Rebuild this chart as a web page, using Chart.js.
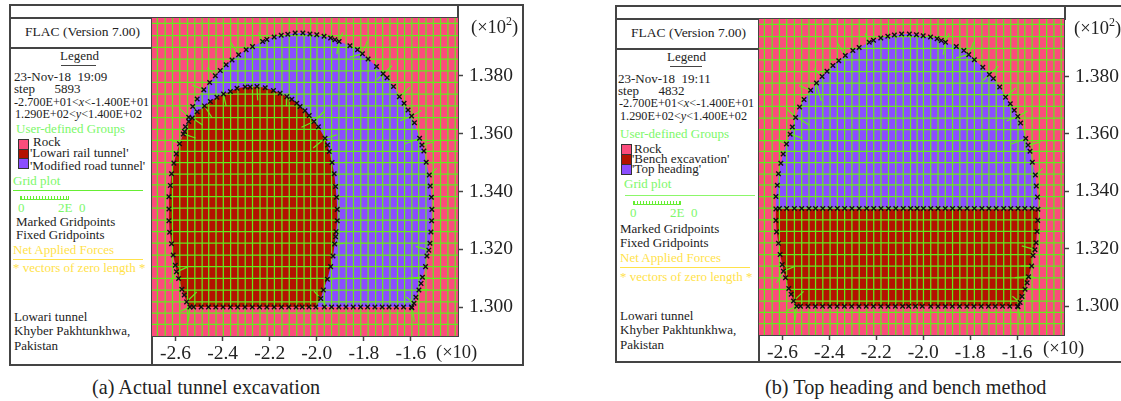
<!DOCTYPE html>
<html>
<head>
<meta charset="utf-8">
<script src="https://cdn.jsdelivr.net/npm/chart.js@4"></script>
<style>
html, body { margin: 0; padding: 0; background: #fff; overflow: hidden; }
body { position: relative; width: 1121px; height: 401px; font-family: "Liberation Serif", serif; }
canvas { position: absolute; }
.t { position: absolute; white-space: pre; font-size: 13px; line-height: 14px; color: #222; }
.n { font-size: 12.2px; }
.g { color: #7cf76a; }
.y { color: #ffe24a; }
.big { font-size: 18.5px; line-height: 22px; color: #222; }
.cap { font-size: 20.2px; line-height: 22px; color: #222; }
.big sup { font-size: 12px; line-height: 0; vertical-align: 8px; }
.r { position: absolute; background: #444; }
.sw { position: absolute; width: 9px; height: 9px; border: 1px solid #333; }
.bar { position: absolute; height: 3px; border: 1px solid #66ee33; border-top: none;
       background: repeating-linear-gradient(90deg, #66ee33 0 1px, transparent 1px 3px); }
</style>
</head>
<body>

<!-- panel (a) frame -->
<div class="r" style="left:9px;top:4px;width:515px;height:2px"></div>
<div class="r" style="left:9px;top:364px;width:515px;height:2px"></div>
<div class="r" style="left:9px;top:4px;width:2px;height:362px"></div>
<div class="r" style="left:522px;top:4px;width:2px;height:362px"></div>
<div class="r" style="left:9px;top:17px;width:450px;height:2px"></div>
<div class="r" style="left:9px;top:47px;width:143px;height:2px"></div>
<div class="r" style="left:151px;top:17px;width:2px;height:349px"></div>
<div class="r" style="left:457px;top:4px;width:2px;height:15px"></div>

<div class="t" style="left:25px;top:25px;font-size:13.5px">FLAC (Version 7.00)</div>
<div class="t" style="left:60px;top:49px">Legend</div>
<div class="r" style="left:61px;top:65px;width:35px;height:1px"></div>
<div class="t" style="left:14px;top:70px">23-Nov-18  19:09</div>
<div class="t" style="left:14px;top:82px">step      5893</div>
<div class="t n" style="left:14px;top:95px">-2.700E+01&lt;<i>x</i>&lt;-1.400E+01</div>
<div class="t n" style="left:15px;top:107px">1.290E+02&lt;<i>y</i>&lt;1.400E+02</div>
<div class="t g" style="left:16px;top:122px">User-defined Groups</div>
<div class="sw" style="left:18px;top:139px;background:#fb4c7c"></div>
<div class="sw" style="left:18px;top:149px;background:#b31200"></div>
<div class="sw" style="left:18px;top:158px;background:#8b4dff"></div>
<div class="t" style="left:33px;top:135px">Rock</div>
<div class="t" style="left:30px;top:146px">'Lowari rail tunnel'</div>
<div class="t" style="left:30px;top:159px">'Modified road tunnel'</div>
<div class="t g" style="left:13px;top:174px">Grid plot</div>
<div class="r" style="left:13px;top:190px;width:130px;height:1px;background:#66ee33"></div>
<div class="bar" style="left:20px;top:196px;width:47px"></div>
<div class="t g" style="left:18px;top:201px">0</div>
<div class="t g" style="left:58px;top:201px">2E  0</div>
<div class="t" style="left:16px;top:215px">Marked Gridpoints</div>
<div class="t" style="left:16px;top:228px">Fixed Gridpoints</div>
<div class="t y" style="left:13px;top:243px">Net Applied Forces</div>
<div class="r" style="left:13px;top:259px;width:130px;height:1px;background:#ffe24a"></div>
<div class="t y" style="left:13px;top:261px">* vectors of zero length *</div>
<div class="t" style="left:14px;top:310px">Lowari tunnel</div>
<div class="t" style="left:14px;top:324px">Khyber Pakhtunkhwa,</div>
<div class="t" style="left:14px;top:339px">Pakistan</div>
<div class="t cap" style="left:92px;top:376px">(a) Actual tunnel excavation</div>

<!-- panel (b) frame -->
<div class="r" style="left:615px;top:5px;width:506px;height:2px"></div>
<div class="r" style="left:615px;top:361px;width:506px;height:2px"></div>
<div class="r" style="left:615px;top:5px;width:2px;height:358px"></div>
<div class="r" style="left:615px;top:18px;width:450px;height:2px"></div>
<div class="r" style="left:615px;top:48px;width:143px;height:2px"></div>
<div class="r" style="left:758px;top:18px;width:2px;height:345px"></div>
<div class="r" style="left:1064px;top:5px;width:2px;height:15px"></div>

<div class="t" style="left:631px;top:26px;font-size:13.5px">FLAC (Version 7.00)</div>
<div class="t" style="left:667px;top:50px">Legend</div>
<div class="r" style="left:670px;top:66px;width:32px;height:1px"></div>
<div class="t" style="left:618px;top:72px">23-Nov-18  19:11</div>
<div class="t" style="left:618px;top:84px">step      4832</div>
<div class="t n" style="left:619px;top:96px">-2.700E+01&lt;<i>x</i>&lt;-1.400E+01</div>
<div class="t n" style="left:620px;top:109px">1.290E+02&lt;<i>y</i>&lt;1.400E+02</div>
<div class="t g" style="left:620px;top:127px">User-defined Groups</div>
<div class="sw" style="left:621px;top:144px;background:#fb4c7c"></div>
<div class="sw" style="left:621px;top:154px;background:#b31200"></div>
<div class="sw" style="left:621px;top:164px;background:#8b4dff"></div>
<div class="t" style="left:634px;top:142px">Rock</div>
<div class="t" style="left:632px;top:152px">'Bench excavation'</div>
<div class="t" style="left:632px;top:162px">'Top heading'</div>
<div class="t g" style="left:624px;top:177px">Grid plot</div>
<div class="r" style="left:625px;top:195px;width:130px;height:1px;background:#8cf76a"></div>
<div class="bar" style="left:633px;top:201px;width:46px"></div>
<div class="t g" style="left:630px;top:206px">0</div>
<div class="t g" style="left:670px;top:206px">2E  0</div>
<div class="t" style="left:620px;top:222px">Marked Gridpoints</div>
<div class="t" style="left:620px;top:236px">Fixed Gridpoints</div>
<div class="t y" style="left:620px;top:251px">Net Applied Forces</div>
<div class="r" style="left:620px;top:267px;width:130px;height:1px;background:#ffe24a"></div>
<div class="t y" style="left:620px;top:270px">* vectors of zero length *</div>
<div class="t" style="left:620px;top:309px">Lowari tunnel</div>
<div class="t" style="left:620px;top:323px">Khyber Pakhtunkhwa,</div>
<div class="t" style="left:620px;top:338px">Pakistan</div>
<div class="t cap" style="left:765px;top:376px">(b) Top heading and bench method</div>

<canvas id="chartA" width="371" height="346" style="left:152px;top:18px"></canvas>
<canvas id="chartB" width="362" height="343" style="left:759px;top:19px"></canvas>

<div class="t big" style="left:471px;top:16px">(×10<sup>2</sup>)</div>
<div class="t big" style="left:436px;top:341px">(×10)</div>
<div class="t big" style="left:1074px;top:17px">(×10<sup>2</sup>)</div>
<div class="t big" style="left:1043px;top:337px">(×10)</div>

<script>
// Axis limits and tick labels (FLAC plot window, x in ×10 and y in ×10²)
const xMin = -2.7, xMax = -1.4, yMin = 1.29, yMax = 1.4;
const xTicks = [-2.6, -2.4, -2.2, -2.0, -1.8, -1.6];
const yTicks = [1.300, 1.320, 1.340, 1.360, 1.380];

// Mesh lines
const gridXs = [-2.677, -2.644, -2.613, -2.582, -2.549, -2.518, -2.487, -2.459, -2.428, -2.397, -2.366,
    -2.335, -2.304, -2.273, -2.241, -2.211, -2.180, -2.148, -2.117, -2.085, -2.054, -2.026, -1.999,
    -1.968, -1.937, -1.906, -1.875, -1.844, -1.813, -1.782, -1.750, -1.720, -1.689, -1.657, -1.627,
    -1.596, -1.567, -1.536, -1.505, -1.474, -1.443, -1.412];
const gridYs = [1.3981, 1.3939, 1.3898, 1.3858, 1.3817, 1.3777, 1.3737, 1.3696, 1.3655, 1.3615, 1.3577,
    1.3539, 1.3500, 1.3460, 1.3423, 1.3382, 1.3342, 1.3301, 1.3261, 1.3221, 1.3180, 1.3140, 1.3099,
    1.3059, 1.3018, 1.2979, 1.2940];

// Road tunnel outline: right wall, up over the crown, down to where it meets the rail tunnel
const archPoints = [[-1.596, 1.2998], [-1.587, 1.3013], [-1.579, 1.3034], [-1.566, 1.3059], [-1.557, 1.3082],
    [-1.551, 1.3103], [-1.538, 1.3140], [-1.532, 1.3177], [-1.524, 1.3197], [-1.519, 1.3221], [-1.515, 1.3260],
    [-1.512, 1.3299], [-1.511, 1.3338], [-1.513, 1.3380], [-1.518, 1.3419], [-1.522, 1.3457], [-1.535, 1.3501],
    [-1.545, 1.3540], [-1.553, 1.3561], [-1.563, 1.3584], [-1.585, 1.3638], [-1.597, 1.3661], [-1.612, 1.3682],
    [-1.629, 1.3705], [-1.649, 1.3728], [-1.674, 1.3763], [-1.701, 1.3793], [-1.718, 1.3807], [-1.746, 1.3832],
    [-1.782, 1.3858], [-1.806, 1.3876], [-1.827, 1.3890], [-1.859, 1.3904], [-1.905, 1.3919], [-1.923, 1.3925],
    [-1.941, 1.3931], [-1.969, 1.3937], [-2.000, 1.3942], [-2.029, 1.3945], [-2.059, 1.3948], [-2.092, 1.3948],
    [-2.123, 1.3944], [-2.151, 1.3940], [-2.181, 1.3934], [-2.212, 1.3926], [-2.230, 1.3919], [-2.273, 1.3901],
    [-2.300, 1.3890], [-2.332, 1.3873], [-2.360, 1.3855], [-2.385, 1.3838], [-2.410, 1.3818], [-2.431, 1.3800],
    [-2.455, 1.3777], [-2.480, 1.3752], [-2.508, 1.3720], [-2.527, 1.3694], [-2.544, 1.3657], [-2.558, 1.3624]];

// Left wall shared by the rail tunnel and the full section
const leftWallPoints = [[-2.567, 1.3599], [-2.583, 1.3565], [-2.597, 1.3530], [-2.607, 1.3498], [-2.617, 1.3461],
    [-2.622, 1.3421], [-2.628, 1.3382], [-2.628, 1.3339], [-2.628, 1.3299], [-2.625, 1.3259], [-2.617, 1.3219],
    [-2.610, 1.3180], [-2.601, 1.3145], [-2.596, 1.3122], [-2.587, 1.3099], [-2.573, 1.3062], [-2.563, 1.3042],
    [-2.553, 1.3018], [-2.539, 1.3000]];

// Invert at y = 1.300
const invertY = 1.300;
const railInvertXs = [-2.523, -2.491, -2.460, -2.429, -2.398, -2.367, -2.336, -2.305, -2.274, -2.243, -2.212,
    -2.181, -2.150, -2.119, -2.088, -2.062, -2.033, -2.004];
const roadInvertXs = [-1.968, -1.937, -1.906, -1.876, -1.845, -1.814, -1.784, -1.753, -1.722, -1.693, -1.662,
    -1.631, -1.598];

// Right wall and crown of the rail tunnel in panel (a)
const railRightPoints = [[-1.983, 1.3030], [-1.972, 1.3059], [-1.955, 1.3096], [-1.941, 1.3140], [-1.931, 1.3177],
    [-1.924, 1.3218], [-1.920, 1.3243], [-1.918, 1.3261], [-1.913, 1.3299], [-1.913, 1.3338], [-1.916, 1.3380],
    [-1.920, 1.3417], [-1.926, 1.3461], [-1.935, 1.3500], [-1.947, 1.3538], [-1.954, 1.3561], [-1.965, 1.3584],
    [-1.993, 1.3624], [-2.012, 1.3642], [-2.032, 1.3663], [-2.050, 1.3679], [-2.071, 1.3694], [-2.085, 1.3705],
    [-2.106, 1.3719], [-2.127, 1.3728], [-2.156, 1.3740], [-2.184, 1.3749], [-2.219, 1.3759], [-2.254, 1.3763],
    [-2.283, 1.3761], [-2.304, 1.3761], [-2.339, 1.3757], [-2.367, 1.3746], [-2.396, 1.3737], [-2.424, 1.3726],
    [-2.452, 1.3711], [-2.477, 1.3696], [-2.508, 1.3676], [-2.529, 1.3654], [-2.544, 1.3642], [-2.562, 1.3607]];

// Level of the bench in panel (b)
const benchY = 1.334;

// Warped mesh pieces next to the boundaries: x1, y1, x2, y2
const archWarps = [[-1.905, 1.3919, -1.890, 1.3950], [-1.806, 1.3876, -1.785, 1.3920], [-1.718, 1.3807, -1.680, 1.3835],
    [-1.649, 1.3728, -1.605, 1.3760], [-1.597, 1.3661, -1.555, 1.3680], [-1.553, 1.3561, -1.500, 1.3572],
    [-1.522, 1.3457, -1.490, 1.3480], [-1.566, 1.3059, -1.525, 1.3060], [-1.596, 1.3000, -1.585, 1.2950],
    [-1.551, 1.3103, -1.520, 1.3100], [-2.230, 1.3919, -2.248, 1.3950], [-2.332, 1.3873, -2.365, 1.3915],
    [-2.431, 1.3800, -2.465, 1.3828], [-2.480, 1.3752, -2.530, 1.3768], [-2.544, 1.3657, -2.585, 1.3690],
    [-2.583, 1.3565, -2.625, 1.3580], [-2.596, 1.3122, -2.625, 1.3082], [-2.539, 1.3000, -2.580, 1.2985],
    [-2.539, 1.3000, -2.546, 1.2950], [-1.718, 1.3807, -1.745, 1.3786], [-1.806, 1.3876, -1.860, 1.3865],
    [-1.905, 1.3919, -1.915, 1.3875], [-1.597, 1.3661, -1.645, 1.3645], [-1.563, 1.3584, -1.625, 1.3565],
    [-1.524, 1.3197, -1.580, 1.3210], [-1.551, 1.3103, -1.610, 1.3100], [-1.587, 1.3013, -1.620, 1.3035]];
const railWarps = [[-2.254, 1.3763, -2.251, 1.3715], [-2.396, 1.3737, -2.385, 1.3695], [-2.477, 1.3696, -2.445, 1.3655],
    [-2.529, 1.3654, -2.485, 1.3630], [-2.567, 1.3599, -2.515, 1.3585], [-2.596, 1.3122, -2.550, 1.3138],
    [-2.553, 1.3018, -2.510, 1.3052], [-2.127, 1.3728, -2.129, 1.3695], [-2.012, 1.3642, -2.065, 1.3622],
    [-1.965, 1.3584, -2.015, 1.3550], [-1.983, 1.3030, -2.012, 1.3055], [-1.924, 1.3218, -1.885, 1.3220],
    [-1.955, 1.3096, -1.900, 1.3100], [-1.983, 1.3030, -1.955, 1.3000], [-1.965, 1.3584, -1.915, 1.3596],
    [-2.012, 1.3642, -1.965, 1.3680]];
const benchWarps = [[-2.596, 1.3122, -2.550, 1.3138], [-2.553, 1.3018, -2.510, 1.3052], [-2.529, 1.3654, -2.485, 1.3630],
    [-2.567, 1.3599, -2.515, 1.3585], [-2.455, 1.3777, -2.435, 1.3715], [-1.538, 1.3140, -1.585, 1.3140]];

const rockCorners = [[xMin, yMin], [xMax, yMin], [xMax, yMax], [xMin, yMax]];

const rockColor = '#fb4c7c';
const railColor = '#b31200';
const roadColor = '#8b4dff';
const meshColor = '#66ea1c';
const axisColor = '#444444';

// Helpers to turn the read values into Chart.js points
const toXY = p => ({ x: p[0], y: p[1] });
const atY = (xs, y) => xs.map(x => ({ x: x, y: y }));

const railInvert = atY(railInvertXs, invertY);
const roadInvert = atY(roadInvertXs, invertY);
const leftWall = leftWallPoints.map(toXY);
const arch = archPoints.map(toXY);
const railRight = railRightPoints.map(toXY);
const fullSection = [...arch, ...leftWall, ...railInvert, ...roadInvert];
const benchSection = fullSection.filter(p => p.y <= benchY);
const benchMarks = atY(gridXs.filter(x => x > -2.63 && x < -1.51), benchY);

function polygon(points, color, order) {
    return {
        data: points, showLine: true, fill: 'shape', backgroundColor: color,
        borderColor: color, borderWidth: 0, pointRadius: 0, order: order
    };
}

function meshLine(points) {
    return {
        data: points, showLine: true, fill: false, borderColor: meshColor,
        borderWidth: 1.25, pointRadius: 0, order: 5
    };
}

function meshDatasets(warps) {
    const verticals = gridXs.map(x => meshLine([{ x: x, y: yMin }, { x: x, y: yMax }]));
    const horizontals = gridYs.map(y => meshLine([{ x: xMin, y: y }, { x: xMax, y: y }]));
    const warped = warps.map(w => meshLine([{ x: w[0], y: w[1] }, { x: w[2], y: w[3] }]));
    return [...verticals, ...horizontals, ...warped];
}

function marks(points) {
    return {
        data: points, showLine: false, pointStyle: 'crossRot', pointRadius: 3.2,
        pointBorderColor: '#111', pointBorderWidth: 1.4, order: 1
    };
}

// The label overhang padding is dropped so the plot fills the canvas corner
function fixScale(axis, size) {
    if (axis.isHorizontal()) axis.height = size;
    else axis.width = size;
    axis.paddingTop = axis.paddingBottom = axis.paddingLeft = axis.paddingRight = 0;
}

function panel(canvasId, datasets, axisWidth, axisHeight) {
    return new Chart(document.getElementById(canvasId).getContext('2d'), {
        type: 'scatter',
        data: { datasets: datasets },
        options: {
            responsive: false,
            animation: false,
            events: [],
            layout: { padding: 0, autoPadding: false },
            plugins: { legend: { display: false }, tooltip: { enabled: false } },
            scales: {
                x: {
                    type: 'linear', position: 'bottom', min: xMin, max: xMax,
                    afterBuildTicks: axis => { axis.ticks = xTicks.map(v => ({ value: v })); },
                    afterFit: axis => fixScale(axis, axisHeight),
                    grid: { drawOnChartArea: false, tickLength: 5, tickColor: axisColor, tickWidth: 1.5 },
                    border: { display: true, color: axisColor, width: 2 },
                    ticks: {
                        autoSkip: false, maxRotation: 0, padding: 1, color: '#222',
                        font: { family: 'Liberation Serif', size: 19.5 },
                        callback: v => v.toFixed(1)
                    }
                },
                y: {
                    type: 'linear', position: 'right', min: yMin, max: yMax,
                    afterBuildTicks: axis => { axis.ticks = yTicks.map(v => ({ value: v })); },
                    afterFit: axis => fixScale(axis, axisWidth),
                    grid: { drawOnChartArea: false, tickLength: 5, tickColor: axisColor, tickWidth: 1.5 },
                    border: { display: true, color: axisColor, width: 2 },
                    ticks: {
                        autoSkip: false, padding: 6, color: '#222',
                        font: { family: 'Liberation Serif', size: 19.5 },
                        callback: v => v.toFixed(3)
                    }
                }
            }
        }
    });
}

// Panel (a): rail tunnel sits inside the enlarged road tunnel
panel('chartA', [
    polygon(rockCorners.map(toXY), rockColor, 9),
    polygon(fullSection, roadColor, 8),
    polygon([...leftWall, ...railInvert, ...railRight], railColor, 7),
    ...meshDatasets([...archWarps, ...railWarps]),
    marks([...fullSection, ...railRight])
], 65, 28);

// Panel (b): top heading above the bench
panel('chartB', [
    polygon(rockCorners.map(toXY), rockColor, 9),
    polygon(fullSection, roadColor, 8),
    polygon(benchSection, railColor, 7),
    ...meshDatasets([...archWarps, ...benchWarps]),
    marks([...fullSection, ...benchMarks])
], 57, 27);
</script>
</body>
</html>
